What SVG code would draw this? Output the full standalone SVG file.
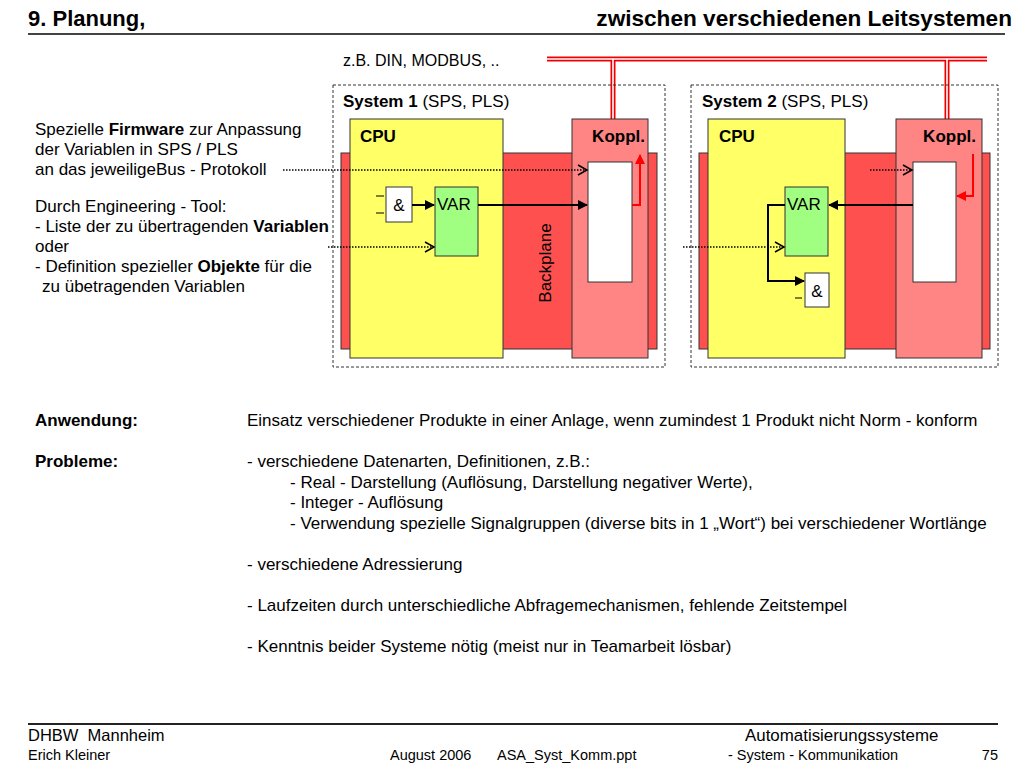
<svg xmlns="http://www.w3.org/2000/svg" width="1024" height="768" viewBox="0 0 1024 768">
<defs>
<style>
text{font-family:"Liberation Sans",Arial,sans-serif;fill:#000}
.t17{font-size:17px}
.b{font-weight:bold}
.title{font-size:22px;font-weight:bold}
.title2{font-size:22.6px;font-weight:bold}
.sys{fill:none;stroke:#333;stroke-width:1;stroke-dasharray:3,2}
.cpu{fill:#FFFF66;stroke:#333;stroke-width:1}
.bp{fill:#FF5050;stroke:#333;stroke-width:1}
.kop{fill:#FF8585;stroke:#333;stroke-width:1}
.buf{fill:#fff;stroke:#333;stroke-width:1}
.var{fill:#A0FF80;stroke:#333;stroke-width:1}
.gate{fill:#fff;stroke:#333;stroke-width:1}
.sol{fill:none;stroke:#000;stroke-width:2}
.dot{fill:none;stroke:#000;stroke-width:1.5;stroke-dasharray:1.5,1.5}
.red{fill:none;stroke:#F00;stroke-width:2}
.pin{stroke:#000;stroke-width:1}
.busO{fill:none;stroke:#E00;stroke-width:5}
.busI{fill:none;stroke:#fff;stroke-width:1.6}
.ft{font-size:14.5px}
</style>
<marker id="ah" markerWidth="10" markerHeight="10" refX="9" refY="5" orient="auto" markerUnits="userSpaceOnUse"><path d="M0,0 L10,5 L0,10 Z" fill="#000"/></marker>
<marker id="ahr" markerWidth="10" markerHeight="10" refX="9" refY="5" orient="auto" markerUnits="userSpaceOnUse"><path d="M0,0 L10,5 L0,10 Z" fill="#F00"/></marker>
<marker id="open" markerWidth="12" markerHeight="12" refX="10" refY="6" orient="auto" markerUnits="userSpaceOnUse"><path d="M1,1 L10,6 L1,11" fill="none" stroke="#000" stroke-width="1.5"/></marker>
</defs>
<rect width="1024" height="768" fill="#fff"/>

<g id="header">
<text x="28" y="26" class="title">9. Planung,</text>
<text x="1012" y="26" class="title2" text-anchor="end">zwischen verschiedenen Leitsystemen</text>
<line x1="28" y1="34" x2="1005" y2="34" stroke="#444" stroke-width="2"/>
</g>

<g id="bus">
<text x="343" y="66" font-size="16">z.B. DIN, MODBUS, ..</text>
<path class="busO" d="M547,59 H987 M613,59 V119 M947,59 V119"/>
<path class="busI" d="M547,59 H987 M613,59 V119 M947,59 V119"/>
</g>

<g id="system1">
<rect class="sys" x="333" y="85" width="332" height="282"/>
<text x="343" y="107" class="t17"><tspan class="b">System 1</tspan> (SPS, PLS)</text>
<rect class="bp" x="341" y="153" width="316" height="196"/>
<rect class="cpu" x="350" y="119" width="153" height="239"/>
<rect class="kop" x="572" y="119" width="76" height="239"/>
<rect class="buf" x="588" y="162" width="44" height="120"/>
<text x="360" y="142" class="t17 b">CPU</text>
<text x="645" y="142" class="t17 b" text-anchor="end">Koppl.</text>
<text transform="translate(551,263) rotate(-90)" class="t17" text-anchor="middle">Backplane</text>
<g id="and1"><rect class="gate" x="386" y="187" width="26" height="35"/><text x="399" y="211" class="t17" text-anchor="middle">&amp;</text>
<line class="pin" x1="376" y1="196" x2="384" y2="196"/><line class="pin" x1="376" y1="213" x2="384" y2="213"/></g>
<g id="var1"><rect class="var" x="435" y="187" width="43" height="69"/><text x="437" y="210" class="t17">VAR</text></g>
</g>

<g id="system2">
<rect class="sys" x="691" y="85" width="307" height="282"/>
<text x="702" y="107" class="t17"><tspan class="b">System 2</tspan> (SPS, PLS)</text>
<rect class="bp" x="699" y="153" width="291" height="196"/>
<rect class="cpu" x="708" y="119" width="137" height="239"/>
<rect class="kop" x="896" y="119" width="86" height="239"/>
<rect class="buf" x="913" y="162" width="43" height="120"/>
<text x="719" y="142" class="t17 b">CPU</text>
<text x="976" y="142" class="t17 b" text-anchor="end">Koppl.</text>
<g id="var2"><rect class="var" x="785" y="187" width="43" height="69"/><text x="787" y="210" class="t17">VAR</text></g>
<g id="and2"><rect class="gate" x="805" y="273" width="24" height="34"/><text x="817" y="297" class="t17" text-anchor="middle">&amp;</text>
<line class="pin" x1="795" y1="298" x2="802" y2="298"/></g>
</g>

<g id="connectors">
<line class="sol" x1="412" y1="205" x2="434" y2="205" marker-end="url(#ah)"/>
<line class="sol" x1="478" y1="205" x2="587" y2="205" marker-end="url(#ah)"/>
<path class="red" d="M632,205 H640 V155" marker-end="url(#ahr)"/>
<line class="dot" x1="283" y1="170" x2="587" y2="170" marker-end="url(#open)"/>
<line class="dot" x1="328" y1="247" x2="434" y2="247" marker-end="url(#open)"/>
<line class="sol" x1="913" y1="205" x2="829" y2="205" marker-end="url(#ah)"/>
<path class="sol" d="M785,205 H768 V281 H804" marker-end="url(#ah)"/>
<path class="red" d="M973,154 V196 H957" marker-end="url(#ahr)"/>
<line class="dot" x1="870" y1="170" x2="912" y2="170" marker-end="url(#open)"/>
<line class="dot" x1="683" y1="247" x2="784" y2="247" marker-end="url(#open)"/>
</g>

<g id="notes" class="t17">
<text x="35" y="135">Spezielle <tspan class="b">Firmware</tspan> zur Anpassung</text>
<text x="35" y="155">der Variablen in SPS / PLS</text>
<text x="35" y="175">an das jeweiligeBus - Protokoll</text>
<text x="35" y="212">Durch Engineering - Tool:</text>
<text x="35" y="232">- Liste der zu übertragenden <tspan class="b">Variablen</tspan></text>
<text x="35" y="252">oder</text>
<text x="35" y="272">- Definition spezieller <tspan class="b">Objekte</tspan> für die</text>
<text x="42" y="292">zu übetragenden Variablen</text>
</g>

<g id="body" class="t17">
<text x="35" y="426" class="b">Anwendung:</text>
<text x="247" y="426">Einsatz verschiedener Produkte in einer Anlage, wenn zumindest 1 Produkt nicht Norm - konform</text>
<text x="35" y="467" class="b">Probleme:</text>
<text x="247" y="467">- verschiedene Datenarten, Definitionen, z.B.:</text>
<text x="290" y="488">- Real - Darstellung (Auflösung, Darstellung negativer Werte),</text>
<text x="290" y="508">- Integer - Auflösung</text>
<text x="290" y="529">- Verwendung spezielle Signalgruppen (diverse bits in 1 „Wort“) bei verschiedener Wortlänge</text>
<text x="247" y="570">- verschiedene Adressierung</text>
<text x="247" y="611">- Laufzeiten durch unterschiedliche Abfragemechanismen, fehlende Zeitstempel</text>
<text x="247" y="652">- Kenntnis beider Systeme nötig (meist nur in Teamarbeit lösbar)</text>
</g>

<g id="footer">
<line x1="28" y1="724" x2="998" y2="724" stroke="#222" stroke-width="2"/>
<text x="28" y="741" font-size="16.5" xml:space="preserve">DHBW  Mannheim</text>
<text x="745" y="741" font-size="16.9">Automatisierungssysteme</text>
<text x="28" y="760" class="ft">Erich Kleiner</text>
<text x="390" y="760" class="ft">August 2006</text>
<text x="497" y="760" class="ft">ASA_Syst_Komm.ppt</text>
<text x="728" y="760" class="ft">- System - Kommunikation</text>
<text x="998" y="760" class="ft" text-anchor="end">75</text>
</g>
</svg>
